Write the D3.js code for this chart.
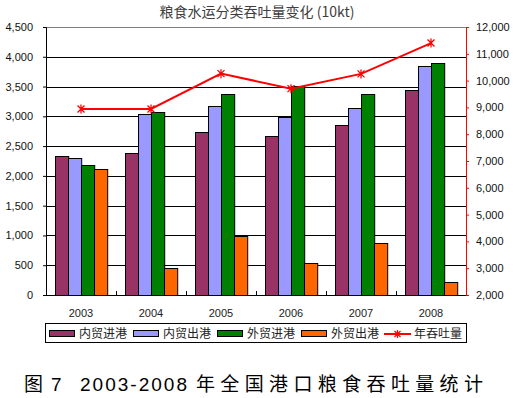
<!DOCTYPE html>
<html>
<head>
<meta charset="utf-8">
<script src="https://cdn.jsdelivr.net/npm/d3@7"></script>
<style>
  body { margin: 0; background: #fff; }
  text { font-family: "Liberation Sans", Arial, sans-serif; }
  .cjk { font-family: "Noto Sans CJK SC", sans-serif; }
</style>
</head>
<body>
<div id="chart"></div>
<script>
const years = ["2003", "2004", "2005", "2006", "2007", "2008"];
const seriesNames = ["内贸进港", "内贸出港", "外贸进港", "外贸出港"];
const seriesColors = ["#993366", "#9999FF", "#008000", "#FF6600"];
const domesticIn = [2330, 2380, 2730, 2670, 2850, 3440];
const domesticOut = [2300, 3035, 3170, 2995, 3135, 3840];
const foreignIn = [2190, 3065, 3370, 3510, 3380, 3895];
const foreignOut = [2110, 455, 990, 540, 870, 215];
const totalThroughput = [8940, 8940, 10260, 9700, 10250, 11400];
const leftTicks = [0, 500, 1000, 1500, 2000, 2500, 3000, 3500, 4000, 4500];
const rightTicks = [2000, 3000, 4000, 5000, 6000, 7000, 8000, 9000, 10000, 11000, 12000];

const width = 517, height = 398;
const margin = {top: 27, right: 51, bottom: 103, left: 46};
const plotW = width - margin.left - margin.right;
const plotH = height - margin.top - margin.bottom;

const svg = d3.select("#chart").append("svg")
    .attr("width", width)
    .attr("height", height);

const g = svg.append("g").attr("transform", `translate(${margin.left},${margin.top})`);

const x = d3.scaleBand().domain(years).range([0, plotW]).padding(0);
const xInner = d3.scaleBand().domain(seriesNames).range([0, x.bandwidth()])
    .paddingInner(0).paddingOuter(0.65);
const yLeft = d3.scaleLinear().domain([0, 4500]).range([plotH, 0]);
const yRight = d3.scaleLinear().domain([2000, 12000]).range([plotH, 0]);

// gridlines
g.append("g")
    .selectAll("line")
    .data(leftTicks.filter(d => d > 0 && d < 4500))
    .enter().append("line")
    .attr("x1", 0).attr("x2", plotW)
    .attr("y1", d => Math.round(yLeft(d)) + 0.5)
    .attr("y2", d => Math.round(yLeft(d)) + 0.5)
    .attr("stroke", "#000").attr("stroke-width", 1);

// top border
g.append("line")
    .attr("x1", 0).attr("x2", plotW)
    .attr("y1", 0.5).attr("y2", 0.5)
    .attr("stroke", "#808080");

// bars
const rows = years.map((yr, i) => ({
    year: yr,
    values: [domesticIn[i], domesticOut[i], foreignIn[i], foreignOut[i]]
}));

const groups = g.append("g").selectAll("g")
    .data(rows)
    .enter().append("g")
    .attr("transform", d => `translate(${x(d.year)},0)`);

groups.selectAll("rect")
    .data(d => d.values.map((v, j) => ({name: seriesNames[j], value: v, color: seriesColors[j]})))
    .enter().append("rect")
    .attr("x", d => Math.round(xInner(d.name)) + 0.5)
    .attr("y", d => Math.round(yLeft(d.value)) + 0.5)
    .attr("width", xInner.bandwidth())
    .attr("height", d => plotH - Math.round(yLeft(d.value)))
    .attr("fill", d => d.color)
    .attr("stroke", "#000")
    .attr("stroke-width", 1);

// left axis
const leftAxis = g.append("g")
    .call(d3.axisLeft(yLeft).tickValues(leftTicks).tickSize(3).tickPadding(10)
        .tickFormat(d3.format(",")));
leftAxis.select(".domain").attr("stroke", "#000");
leftAxis.selectAll("text").attr("font-size", 11).attr("fill", "#111").attr("font-family", "Liberation Sans, Arial, sans-serif");

// right axis
const rightAxis = g.append("g")
    .attr("transform", `translate(${plotW},0)`)
    .call(d3.axisRight(yRight).tickValues(rightTicks).tickSize(3).tickPadding(7)
        .tickFormat(d3.format(",")));
rightAxis.select(".domain").attr("stroke", "#FF0000");
rightAxis.selectAll(".tick line").attr("stroke", "#FF0000");
rightAxis.selectAll("text").attr("font-size", 11).attr("fill", "#111").attr("font-family", "Liberation Sans, Arial, sans-serif");

// bottom axis
const bottom = g.append("g").attr("transform", `translate(0,${plotH})`);
bottom.append("line")
    .attr("x1", 0).attr("x2", plotW).attr("y1", 0.5).attr("y2", 0.5)
    .attr("stroke", "#000");
bottom.selectAll(".xtick")
    .data(years.slice(1))
    .enter().append("line")
    .attr("x1", d => Math.round(x(d)) + 0.5).attr("x2", d => Math.round(x(d)) + 0.5)
    .attr("y1", -4).attr("y2", 0)
    .attr("stroke", "#000");
bottom.selectAll(".xlabel")
    .data(years)
    .enter().append("text")
    .attr("x", d => x(d) + x.bandwidth() / 2)
    .attr("y", 22)
    .attr("text-anchor", "middle")
    .attr("font-size", 11)
    .attr("fill", "#222")
    .text(d => d);

// line
const line = d3.line()
    .x((d, i) => x(years[i]) + x.bandwidth() / 2)
    .y(d => yRight(d));

g.append("path")
    .datum(totalThroughput)
    .attr("d", line)
    .attr("fill", "none")
    .attr("stroke", "#FF0000")
    .attr("stroke-width", 2);

function starPath(cx, cy, r) {
    return `M${cx - r},${cy - r}L${cx + r},${cy + r}M${cx - r},${cy + r}L${cx + r},${cy - r}M${cx},${cy - r - 1}L${cx},${cy + r + 1}`;
}

g.append("g").selectAll("path")
    .data(totalThroughput)
    .enter().append("path")
    .attr("d", (d, i) => starPath(x(years[i]) + x.bandwidth() / 2, yRight(d), 3.5))
    .attr("stroke", "#FF0000")
    .attr("stroke-width", 1.3)
    .attr("fill", "none");

// title
svg.append("text")
    .attr("class", "cjk")
    .attr("x", 257)
    .attr("y", 17)
    .attr("text-anchor", "middle")
    .attr("font-size", 14)
    .attr("fill", "#404040")
    .text("粮食水运分类吞吐量变化 (10kt)");

// legend
const legend = svg.append("g");
legend.append("rect")
    .attr("x", 45.5).attr("y", 323.5)
    .attr("width", 421).attr("height", 19)
    .attr("fill", "#fff").attr("stroke", "#000");

const legendX = [49, 133, 217, 301];
seriesNames.forEach((name, i) => {
    legend.append("rect")
        .attr("x", legendX[i] + 0.5).attr("y", 330.5)
        .attr("width", 25).attr("height", 6)
        .attr("fill", seriesColors[i]).attr("stroke", "#000");
    legend.append("text")
        .attr("class", "cjk")
        .attr("x", legendX[i] + 30).attr("y", 338)
        .attr("font-size", 12).attr("fill", "#222")
        .text(name);
});
legend.append("line")
    .attr("x1", 384).attr("x2", 411).attr("y1", 334).attr("y2", 334)
    .attr("stroke", "#FF0000").attr("stroke-width", 2);
legend.append("path")
    .attr("d", starPath(397.5, 334, 3))
    .attr("stroke", "#FF0000").attr("stroke-width", 1.2);
legend.append("text")
    .attr("class", "cjk")
    .attr("x", 414).attr("y", 338)
    .attr("font-size", 12).attr("fill", "#222")
    .text("年吞吐量");

// caption
svg.append("text").attr("class", "cjk").attr("x", 24).attr("y", 391)
    .attr("font-size", 19).attr("fill", "#000").text("图");
svg.append("text").attr("x", 51).attr("y", 391)
    .attr("font-size", 19).attr("fill", "#000")
    .attr("font-family", "DejaVu Sans Mono, monospace").text("7");
svg.append("text").attr("x", 80).attr("y", 391)
    .attr("font-size", 19).attr("fill", "#000")
    .attr("font-family", "DejaVu Sans Mono, monospace")
    .attr("textLength", 107).attr("lengthAdjust", "spacing")
    .text("2003-2008");
svg.append("text").attr("class", "cjk").attr("x", 196).attr("y", 391)
    .attr("font-size", 19).attr("fill", "#000")
    .attr("textLength", 287).attr("lengthAdjust", "spacing")
    .text("年全国港口粮食吞吐量统计");
</script>
</body>
</html>
